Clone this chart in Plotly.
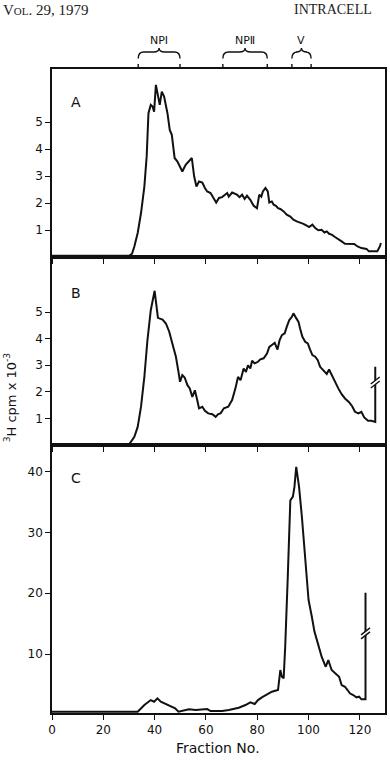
import plotly.graph_objects as go

# ---------------- data ----------------
A_X = [0, 30.2, 31.2, 32.1, 33.4, 34.7, 36.0, 36.9, 37.6, 38.5, 39.2, 39.8, 40.5, 41.4, 42.0, 42.8,
       43.7, 45.0, 45.9, 46.7, 47.3, 47.8, 48.9, 50.8, 52.1, 53.8, 54.5, 55.4, 56.3, 57.3, 58.6,
       59.6, 60.5, 61.8, 62.8, 64.0, 65.1, 66.3, 68.3, 68.9, 70.2, 72.1, 73.1, 74.1, 75.1, 76.0,
       77.3, 78.6, 79.9, 80.8, 81.6, 82.2, 83.2, 84.1, 84.7, 85.7, 86.4, 87.3, 88.1, 89.0, 90.3,
       91.5, 92.9, 94.1, 95.4, 96.7, 98.0, 99.3, 100.2, 101.5, 102.6, 103.8, 105.1, 106.2, 107.1,
       108.0, 109.0, 110.3, 111.6, 112.9, 114.2, 116.1, 117.8, 119.1, 120.6, 122.6, 123.5, 125.2,
       126.8, 127.8, 128.2]
A_Y = [0.05, 0.05, 0.12, 0.39, 0.89, 1.63, 2.61, 3.73, 5.33, 5.64, 5.58, 5.39, 6.38, 5.95, 5.64, 6.13,
       5.95, 5.33, 4.71, 4.53, 4.10, 3.67, 3.54, 3.17, 3.42, 3.60, 3.67, 2.99, 2.61, 2.80, 2.76,
       2.56, 2.43, 2.37, 2.19, 2.02, 2.19, 2.22, 2.37, 2.24, 2.39, 2.31, 2.22, 2.31, 2.15, 2.27,
       2.12, 1.90, 1.81, 2.31, 2.24, 2.43, 2.56, 2.43, 2.02, 2.06, 1.94, 1.90, 1.81, 1.78, 1.69,
       1.57, 1.50, 1.38, 1.32, 1.28, 1.23, 1.16, 1.11, 1.20, 1.07, 0.99, 1.01, 0.91, 0.95,
       0.86, 0.83, 0.74, 0.67, 0.58, 0.49, 0.48, 0.48, 0.39, 0.33, 0.30, 0.21, 0.21,
       0.21, 0.39, 0.52]

B_X = [0, 30.1, 32.1, 33.4, 34.7, 36.0, 37.2, 38.5, 40.0, 40.7, 41.3, 41.8, 43.1, 44.4, 45.7, 46.9,
       48.3, 49.3, 49.9, 50.8, 51.7, 52.8, 53.7, 54.7, 55.7, 56.6, 57.3, 58.6, 59.6, 60.9, 62.5,
       63.8, 64.8, 65.7, 67.0, 68.7, 70.2, 71.5, 72.5, 73.5, 74.7, 75.6, 76.4, 77.3, 78.0, 79.0,
       80.3, 81.2, 82.5, 83.8, 84.7, 85.7, 86.8, 87.9, 88.7, 89.6, 90.7, 91.5, 92.5, 93.5, 94.1,
       95.0, 96.1, 96.7, 97.6, 98.7, 99.7, 100.6, 101.5, 102.6, 103.6, 104.5, 105.8, 107.1, 108.0,
       109.0, 110.3, 111.6, 112.9, 114.2, 115.7, 117.0, 118.1, 119.4, 120.6, 121.7, 123.2, 124.5,
       126.0, 126.0]
B_Y = [0.03, 0.03, 0.31, 0.68, 1.44, 2.56, 3.94, 5.07, 5.80, 5.20, 4.78, 4.76, 4.72, 4.57, 4.26, 3.82,
       3.32, 2.75, 2.38, 2.63, 2.54, 2.25, 2.13, 1.81, 2.06, 1.69, 1.38, 1.44, 1.29, 1.19, 1.16,
       1.06, 1.16, 1.19, 1.38, 1.44, 1.69, 2.13, 2.56, 2.44, 2.88, 2.75, 3.00, 2.88, 3.17, 3.07,
       3.13, 3.22, 3.26, 3.44, 3.69, 3.76, 3.84, 3.59, 3.94, 4.13, 4.20, 4.44, 4.70, 4.82, 4.95,
       4.80, 4.63, 4.38, 4.07, 3.88, 3.82, 3.59, 3.38, 3.32, 3.19, 2.94, 2.79, 2.67, 2.84,
       2.63, 2.38, 2.13, 1.91, 1.75, 1.62, 1.46, 1.25, 1.19, 1.25, 1.04, 0.91, 0.91,
       0.87, 2.94]

C_X = [0, 33.4, 36.0, 38.5, 39.8, 41.1, 42.4, 44.4, 46.3, 48.0, 49.3, 50.8, 53.4, 56.0, 58.6, 60.5,
       61.8, 66.3, 68.9, 70.9, 72.8, 75.4, 77.3, 79.0, 80.3, 81.8, 83.8, 85.7, 87.0, 88.1, 89.0,
       89.6, 90.3, 90.9, 91.9, 92.9, 93.9, 94.5, 95.2, 96.3, 97.4, 98.7, 100.0, 101.3, 102.3,
       103.6, 105.1, 106.7, 107.7, 109.0, 110.3, 111.9, 112.9, 114.2, 115.2, 116.1, 117.4, 118.7,
       119.7, 120.6, 122.2, 122.2]
C_Y = [0.5, 0.5, 1.61, 2.43, 2.15, 2.71, 2.15, 1.78, 1.45, 1.07, 0.51, 0.67, 0.90, 0.79, 0.84, 0.95,
       0.62, 0.62, 0.79, 0.95, 1.17, 1.61, 2.06, 1.78, 2.43, 2.88, 3.37, 3.80, 3.96, 4.08, 7.37,
       6.27, 6.00, 11.2, 22.7, 35.3, 35.9, 37.5, 40.8, 37.5, 32.6, 26.0, 18.9, 16.1, 13.7,
       11.8, 9.56, 7.91, 9.01, 7.37, 6.83, 6.27, 4.90, 4.62, 4.08, 3.54, 3.26, 2.88,
       2.98, 2.55, 2.55, 20.1]

# axis breaks (fraction, value)
B_BREAK = (126.0, 2.35)
C_BREAK = (122.2, 13.4)

# peak regions marked above panel A
REGION_NAMES = ["NPI", "NP\u2161", "V"]
REGION_START = [33.6, 66.6, 93.5]
REGION_END = [49.9, 83.9, 101.0]

PANEL_NAMES = ["A", "B", "C"]
X_TICKS = [0, 20, 40, 60, 80, 100, 120]
A_TICKS = [1, 2, 3, 4, 5]
B_TICKS = [1, 2, 3, 4, 5]
C_TICKS = [10, 20, 30, 40]

# ---------------- figure ----------------
INK = "#111111"
FONT = "DejaVu Sans"
W, H = 390, 762
ML, MR, MT, MB = 52, 3, 69, 49
PW, PH = W - ML - MR, H - MT - MB

XR = [0, 129.8]
YR = {"y": [0, 6.97], "y2": [0, 7.07], "y3": [0.3, 44.4]}
DOM = {"y": [0.7081, 1.0], "y2": [0.4161, 0.7081], "y3": [0.0, 0.4161]}

fig = go.Figure()
line = dict(color=INK, width=2)
for xs, ys, ya in [(A_X, A_Y, "y"), (B_X, B_Y, "y2"), (C_X, C_Y, "y3")]:
    xa = "x" if ya == "y" else "x" + ya[1:]
    fig.add_trace(go.Scatter(x=xs, y=ys, mode="lines", line=line, xaxis=xa, yaxis=ya,
                             hoverinfo="skip", showlegend=False))


def px_to_units(ya):
    dom = DOM[ya]
    r = YR[ya]
    h = (dom[1] - dom[0]) * PH
    return (r[1] - r[0]) / h


xu = (XR[1] - XR[0]) / PW
for (bx, by), ya in [(B_BREAK, "y2"), (C_BREAK, "y3")]:
    yu = px_to_units(ya)
    xa = "x" + ya[1:]
    # white gap
    fig.add_trace(go.Scatter(x=[bx - 4.5 * xu, bx + 4.5 * xu], y=[by - 3.5 * yu, by + 3.5 * yu],
                             mode="lines", line=dict(color="white", width=3),
                             xaxis=xa, yaxis=ya, hoverinfo="skip", showlegend=False))
    for off in (-2.0, 2.0):
        fig.add_trace(go.Scatter(x=[bx - 4.5 * xu, bx + 4.5 * xu],
                                 y=[by + (off - 3.5) * yu, by + (off + 3.5) * yu],
                                 mode="lines", line=dict(color=INK, width=1.4),
                                 xaxis=xa, yaxis=ya, hoverinfo="skip", showlegend=False))

axis_common = dict(showline=True, linecolor=INK, linewidth=1.6, mirror=True, showgrid=False,
                   zeroline=False, ticks="outside", ticklen=5, tickwidth=1.4, tickcolor=INK,
                   tickfont=dict(family=FONT, size=12, color=INK))

layout = dict(width=W, height=H, margin=dict(l=ML, r=MR, t=MT, b=MB),
              paper_bgcolor="white", plot_bgcolor="white", showlegend=False)
for i, ya in enumerate(["y", "y2", "y3"]):
    xkey = "xaxis" if i == 0 else f"xaxis{i+1}"
    ykey = "yaxis" if i == 0 else f"yaxis{i+1}"
    xa = "x" if i == 0 else f"x{i+1}"
    layout[xkey] = dict(axis_common, anchor=ya, domain=[0, 1], range=XR, tickvals=X_TICKS,
                        showticklabels=(i == 2))
    tv = [A_TICKS, B_TICKS, C_TICKS][i]
    layout[ykey] = dict(axis_common, anchor=xa, domain=DOM[ya], range=YR[ya], tickvals=tv)
fig.update_layout(**layout)

# panel letters
for name, ya, yv in [("A", "y", 5.75), ("B", "y2", 5.72), ("C", "y3", 38.9)]:
    xa = "x" if ya == "y" else "x" + ya[1:]
    fig.add_annotation(x=9.5, y=yv, xref=xa, yref=ya, text=name, showarrow=False,
                       font=dict(family=FONT, size=14, color=INK), xanchor="center", yanchor="middle")

# braces for peak regions
def py(pix):
    return 1 + (MT - pix) / PH

y_end, y_sh, y_cusp, y_tick = py(58.5), py(52), py(48), py(64)
w = 2.2
for name, a, b in zip(REGION_NAMES, REGION_START, REGION_END):
    m = (a + b) / 2
    path = (f"M {a},{y_end} Q {a},{y_sh} {a + w},{y_sh} L {m - w},{y_sh} "
            f"Q {m},{y_sh} {m},{y_cusp} Q {m},{y_sh} {m + w},{y_sh} "
            f"L {b - w},{y_sh} Q {b},{y_sh} {b},{y_end}")
    fig.add_shape(type="path", path=path, xref="x", yref="paper",
                  line=dict(color=INK, width=1.4))
    for e in (a, b):
        fig.add_shape(type="line", x0=e, x1=e, y0=1, y1=y_tick, xref="x", yref="paper",
                      line=dict(color=INK, width=1.4))
    fig.add_annotation(x=m, y=py(40), xref="x", yref="paper", text=name, showarrow=False,
                       font=dict(family=FONT, size=11, color=INK), xanchor="center", yanchor="middle")

# axis titles
fig.add_annotation(x=(219 - ML) / PW, y=(MT + PH - 748) / PH, xref="paper", yref="paper",
                   text="Fraction No.", showarrow=False,
                   font=dict(family=FONT, size=14, color=INK), xanchor="center", yanchor="middle")
fig.add_annotation(x=(10 - ML) / PW, y=(MT + PH - 397) / PH, xref="paper", yref="paper",
                   text="<sup>3</sup>H cpm x 10<sup>-3</sup>", showarrow=False, textangle=-90,
                   font=dict(family=FONT, size=13, color=INK), xanchor="center", yanchor="middle")

# running header of the journal page
fig.add_annotation(x=(1 - ML) / PW, y=py(10), xref="paper", yref="paper",
                   text="V<span style='font-size:11px'>OL</span>. 29, 1979", showarrow=False,
                   font=dict(family="Liberation Serif", size=15, color="#222"),
                   xanchor="left", yanchor="middle")
fig.add_annotation(x=(293 - ML) / PW, y=py(10), xref="paper", yref="paper",
                   text="INTRACELL", showarrow=False,
                   font=dict(family="Liberation Serif", size=14, color="#222"),
                   xanchor="left", yanchor="middle")

fig.write_html("out.html")
